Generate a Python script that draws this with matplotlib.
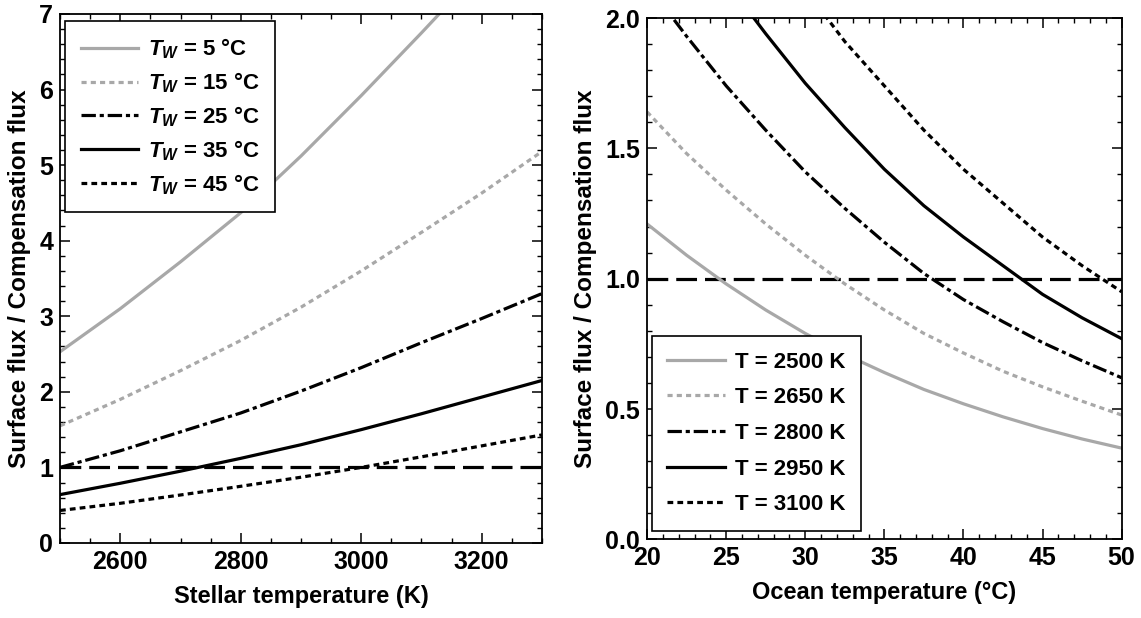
import numpy as np
import matplotlib
matplotlib.use("Agg")
import matplotlib.pyplot as plt

GRAY, BLACK = "#a8a8a8", "#000000"

plt.rcParams.update({
    "font.family": "Liberation Sans", "font.weight": "bold",
    "axes.labelweight": "bold", "font.size": 14,
    "mathtext.fontset": "custom",
    "mathtext.it": "Liberation Sans:italic:bold",
    "mathtext.rm": "Liberation Sans:bold",
    "xtick.direction": "in", "ytick.direction": "in",
    "xtick.top": True, "ytick.right": True,
    "xtick.major.size": 7, "ytick.major.size": 7,
    "xtick.minor.size": 3.5, "ytick.minor.size": 3.5,
    "xtick.major.width": 1.1, "ytick.major.width": 1.1,
    "xtick.minor.width": 1.0, "ytick.minor.width": 1.0,
    "axes.linewidth": 1.3,
})

# ---- left panel: ratio vs stellar temperature, one curve per ocean temp ----
t_star = [2500, 2600, 2700, 2800, 2900, 3000, 3100, 3200, 3300]
tw_labels = ["5", "15", "25", "35", "45"]
flux_tw5 = [2.53, 3.10, 3.72, 4.37, 5.12, 5.92, 6.75, 7.60, 8.5]
flux_tw15 = [1.55, 1.90, 2.28, 2.68, 3.12, 3.60, 4.11, 4.63, 5.18]
flux_tw25 = [1.00, 1.22, 1.47, 1.72, 2.01, 2.32, 2.65, 2.97, 3.30]
flux_tw35 = [0.64, 0.79, 0.95, 1.12, 1.30, 1.50, 1.71, 1.93, 2.15]
flux_tw45 = [0.43, 0.525, 0.635, 0.75, 0.87, 1.00, 1.14, 1.285, 1.43]

# ---- right panel: ratio vs ocean temperature, one curve per stellar temp ----
t_ocean = [20, 22.5, 25, 27.5, 30, 32.5, 35, 37.5, 40, 42.5, 45, 47.5, 50]
ts_labels = ["2500", "2650", "2800", "2950", "3100"]
flux_2500 = [1.21, 1.09, 0.98, 0.88, 0.79, 0.71, 0.64, 0.575, 0.52, 0.47,
             0.425, 0.385, 0.35]
flux_2650 = [1.64, 1.48, 1.34, 1.21, 1.09, 0.98, 0.88, 0.79, 0.715, 0.645,
             0.585, 0.53, 0.477]
flux_2800 = [2.13, 1.93, 1.74, 1.57, 1.41, 1.27, 1.14, 1.02, 0.92, 0.835,
             0.755, 0.685, 0.62]
flux_2950 = [2.63, 2.38, 2.14, 1.94, 1.75, 1.58, 1.42, 1.28, 1.16, 1.05,
             0.94, 0.85, 0.77]
flux_3100 = [3.20, 2.88, 2.60, 2.34, 2.11, 1.91, 1.74, 1.57, 1.42, 1.29,
             1.16, 1.05, 0.95]

styles = [
    dict(color=GRAY, ls="-"),
    dict(color=GRAY, ls=(0, (1.6, 1.3))),
    dict(color=BLACK, ls=(0, (4.5, 1.2, 1.3, 1.2))),
    dict(color=BLACK, ls="-"),
    dict(color=BLACK, ls=(0, (1.8, 1.3))),
]
LW = 2.3
DASHED = (0, (6.5, 2.5))
LEG = dict(borderaxespad=0, fancybox=False, edgecolor=BLACK, fontsize=16,
           handlelength=2.6, handletextpad=0.45, borderpad=0.7,
           framealpha=1)

fig = plt.figure(figsize=(11.41, 6.18), dpi=100)
ax1 = fig.add_axes([0.0526, 0.1214, 0.4224, 0.856])
ax2 = fig.add_axes([0.5671, 0.1273, 0.4159, 0.8435])

for lab, y, st in zip(tw_labels,
                      [flux_tw5, flux_tw15, flux_tw25, flux_tw35, flux_tw45],
                      styles):
    ax1.plot(t_star, y, lw=LW, label=rf"$T_W$ = {lab} °C", **st)
ax1.axhline(1, color=BLACK, lw=LW, ls=DASHED, zorder=1)
ax1.set_xlim(2500, 3300)
ax1.set_ylim(0, 7)
ax1.set_xticks([2600, 2800, 3000, 3200])
ax1.set_xticks(np.arange(2500, 3301, 50), minor=True)
ax1.set_yticks(range(8))
ax1.set_yticks(np.arange(0, 7.01, 0.2), minor=True)
ax1.set_xlabel("Stellar temperature (K)", fontsize=17, labelpad=8)
ax1.set_ylabel("Surface flux / Compensation flux", fontsize=17.5, labelpad=6)
leg1 = ax1.legend(loc="upper left", bbox_to_anchor=(0.0104, 0.987),
                  labelspacing=0.42, **LEG)
leg1.get_frame().set_linewidth(1.2)

for lab, y, st in zip(ts_labels,
                      [flux_2500, flux_2650, flux_2800, flux_2950, flux_3100],
                      styles):
    ax2.plot(t_ocean, y, lw=LW, label=f"T = {lab} K", **st)
ax2.axhline(1, color=BLACK, lw=LW, ls=DASHED, zorder=1)
ax2.set_xlim(20, 50)
ax2.set_ylim(0, 2)
ax2.set_xticks(range(20, 51, 5))
ax2.set_xticks(range(20, 51), minor=True)
ax2.set_yticks(np.arange(0, 2.01, 0.5))
ax2.set_yticks(np.arange(0, 2.01, 0.1), minor=True)
ax2.yaxis.set_major_formatter(matplotlib.ticker.FormatStrFormatter("%.1f"))
ax2.set_xlabel("Ocean temperature (°C)", fontsize=17, labelpad=8)
ax2.set_ylabel("Surface flux / Compensation flux", fontsize=17.5, labelpad=6)
leg2 = ax2.legend(loc="lower left", bbox_to_anchor=(0.0099, 0.0165),
                  labelspacing=0.66, **LEG)
leg2.get_frame().set_linewidth(1.2)

for ax in (ax1, ax2):
    ax.tick_params(labelsize=18, pad=5)

fig.savefig("out.png", dpi=100)
